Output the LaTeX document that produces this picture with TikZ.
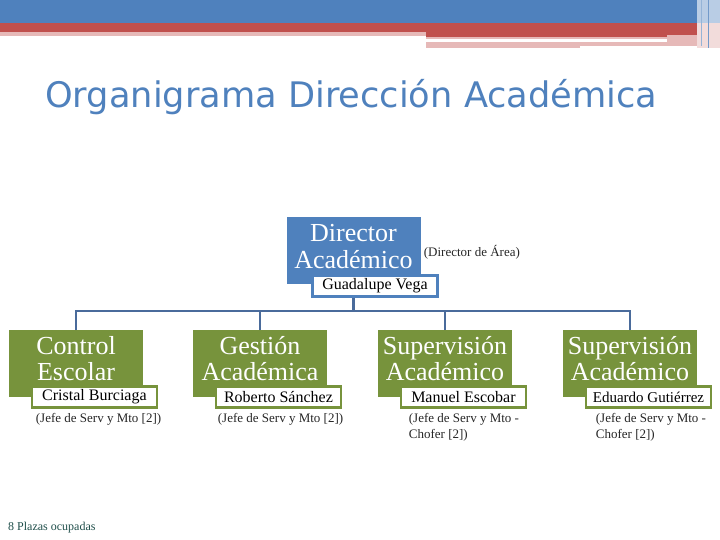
\documentclass[tikz,border=0pt]{standalone}
\usepackage{fontspec}
\setmainfont{Liberation Serif}
\newfontfamily\headfont{DejaVu Sans}
\usetikzlibrary{calc,positioning}

\definecolor{bandblue}{HTML}{4F81BD}
\definecolor{bandred}{HTML}{C0504D}
\definecolor{bandpink}{HTML}{E6B9B8}
\definecolor{paleblue}{HTML}{B9CDE5}
\definecolor{palepink}{HTML}{F2DCDB}
\definecolor{unitgreen}{HTML}{77933C}
\definecolor{linkblue}{HTML}{4A6B9B}
\definecolor{notegrey}{HTML}{262626}
\definecolor{footteal}{HTML}{1F4E4A}

\begin{document}
\begin{tikzpicture} [x=1pt,y=-1pt,
        unitbox/.style={
            rectangle,
            fill=#1,
            minimum width=134pt,
            minimum height=67pt,
            inner sep=0pt,
            anchor=north},
        boxtext/.style={
            align=center,
            text=white,
            inner sep=0pt,
            font=\fontsize{26}{26.5}\selectfont},
        namebox/.style={
            rectangle,
            draw=#1,
            line width=2.5pt,
            fill=white,
            minimum width=125pt,
            minimum height=21pt,
            inner sep=1pt,
            anchor=north east,
            font=\fontsize{16}{18}\selectfont},
        jobnote/.style={
            align=left,
            anchor=north west,
            inner sep=0pt,
            text=notegrey,
            font=\fontsize{13}{16}\selectfont},
        link/.style={draw=linkblue, line width=2.5pt}]

    \useasboundingbox (0,0) rectangle (720,540);

    % top band
    \fill[bandblue] (0,0) rectangle (697,23);
    \fill[bandred] (0,23) rectangle (697,32);
    \fill[bandpink] (0,32) rectangle (426,36);
    \fill[bandred] (426,32) rectangle (697,37);
    \fill[bandpink] (426,37) rectangle (667,39);
    \fill[bandpink] (426,42) rectangle (580,48);
    \fill[bandpink] (580,42) rectangle (667,46);
    \fill[bandpink] (667,35) rectangle (697,46);
    \fill[paleblue] (697,0) rectangle (720,23);
    \fill[palepink] (697,23) rectangle (720,48);
    \draw[bandblue!60, line width=1pt] (701,0) -- (701,46);
    \draw[bandblue!80, line width=1pt] (708,0) -- (708,48);

    % title
    \node[anchor=base west, inner sep=0pt, text=bandblue,
        font=\headfont\fontsize{35.2}{40}\selectfont] (title) at (45,108)
        {Organigrama Dirección Académica};

    % director
    \node[unitbox=bandblue] (dir) at (353.5,217) {};
    \node[boxtext] (dirtext) at ([yshift=4pt]dir.center) {Director\\Académico};
    \node[namebox=bandblue] (dirname) at ([xshift=18pt,yshift=10pt]dir.south east) {Guadalupe Vega};
    \node[jobnote, anchor=west] (dirnote) at ([xshift=3pt,yshift=-2pt]dir.east) {(Director de Área)};

    \coordinate (bus) at (353.5,311);
    \draw[link] (dir.south |- dirname.south) -- (bus);

    % the four units
    \foreach \i/\x/\dx/\utitle/\uname/\ujob in {
        1/76/5/{Control\\Escolar}/{Cristal Burciaga}/{(Jefe de Serv y Mto [2])},
        2/260/3/{Gestión\\Académica}/{Roberto Sánchez}/{(Jefe de Serv y Mto [2])},
        3/445/9/{Supervisión\\Académico}/{Manuel Escobar}/{(Jefe de Serv y Mto -\\Chofer [2])},
        4/630/11/{Supervisión\\Académico}/{\fontsize{15}{18}\selectfont Eduardo Gutiérrez}/{(Jefe de Serv y Mto -\\Chofer [2])}} {
        \node[unitbox=unitgreen] (u\i) at (\x,330) {};
        \node[boxtext] (ut\i) at ([yshift=5pt]u\i.center) {\utitle};
        \node[namebox=unitgreen] (un\i) at ([xshift=15pt,yshift=12pt]u\i.south east) {\uname};
        \node[jobnote] (uj\i) at ([xshift=\dx pt,yshift=-4pt]un\i.south west) {\ujob};
        \draw[link] (u\i.north) |- (bus);
    }

    % footer
    \node[anchor=west, inner sep=0pt, text=footteal,
        font=\fontsize{12}{14}\selectfont] (count) at (8,528) {8 Plazas ocupadas};

\end{tikzpicture}
\end{document}
